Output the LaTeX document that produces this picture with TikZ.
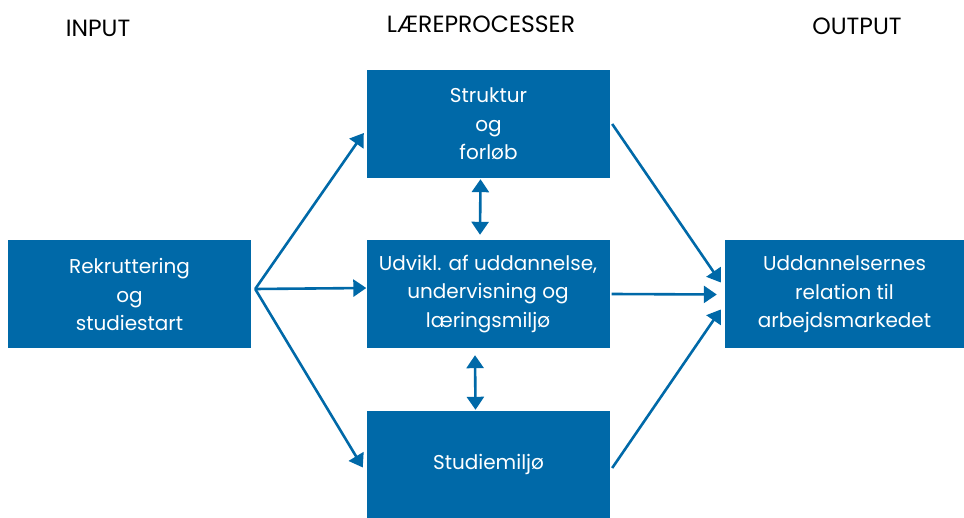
\documentclass[tikz,border=0pt]{standalone}
\usepackage{fontspec}
\setmainfont{Poppins}
\usetikzlibrary{arrows.meta}
\definecolor{dblue}{HTML}{0069A8}
\begin{document}
\begin{tikzpicture}[x=1pt,y=-1pt,
  box/.style={fill=dblue,text=white,inner sep=0pt,minimum width=243pt,minimum height=108pt,align=center,font=\fontsize{20}{28.5}\selectfont},
  title/.style={text=black,font=\fontsize{23.5}{26}\selectfont},
  conn/.style={draw=dblue,line width=2.6pt,-{Triangle[length=13pt,width=17pt]}},
  dconn/.style={draw=dblue,line width=2.6pt,{Triangle[length=13pt,width=17pt]}-{Triangle[length=13pt,width=17pt]}}]
\useasboundingbox (0,0) rectangle (964,518);
\node[title] (tin) at (98,28) {INPUT};
\node[title] (tlp) at (481,24) {LÆREPROCESSER};
\node[title] (tout) at (857,26) {OUTPUT};
\node[box] (inp) at (129.5,294.5) {Rekruttering\\og\\studiestart};
\node[box] (str) at (488.5,124) {Struktur\\og\\forløb};
\node[box] (udv) at (488,294) {Udvikl. af uddannelse,\\undervisning og\\læringsmiljø};
\node[box,minimum height=107pt] (stm) at (488.5,464.5) {Studiemiljø};
\node[box,minimum width=239pt] (out) at (844.5,294.5) {Uddannelsernes\\relation til\\arbejdsmarkedet};
\coordinate (src) at ([xshift=4pt,yshift=5.5pt]inp.east);
\draw[conn] (src) -- ([xshift=-3pt,yshift=-9pt]str.west);
\draw[conn] (src) -- ([xshift=0pt,yshift=6pt]udv.west);
\draw[conn] (src) -- ([xshift=-4pt,yshift=-3pt]stm.west);
\draw[conn] ([xshift=2pt]str.east) -- ([xshift=-4pt,yshift=12pt]out.west);
\draw[conn] ([xshift=2pt]udv.east) -- ([xshift=-8pt]out.west);
\draw[conn] ([xshift=2pt,yshift=-3.5pt]stm.east) -- ([xshift=-4pt,yshift=-15pt]out.west);
\draw[dconn] ([xshift=-8pt,yshift=-1pt]str.south) -- ([xshift=-8pt,yshift=5pt]udv.north);
\draw[dconn] ([xshift=-13pt,yshift=-7pt]udv.south) -- ([xshift=-13pt,yshift=1pt]stm.north);
\end{tikzpicture}
\end{document}
